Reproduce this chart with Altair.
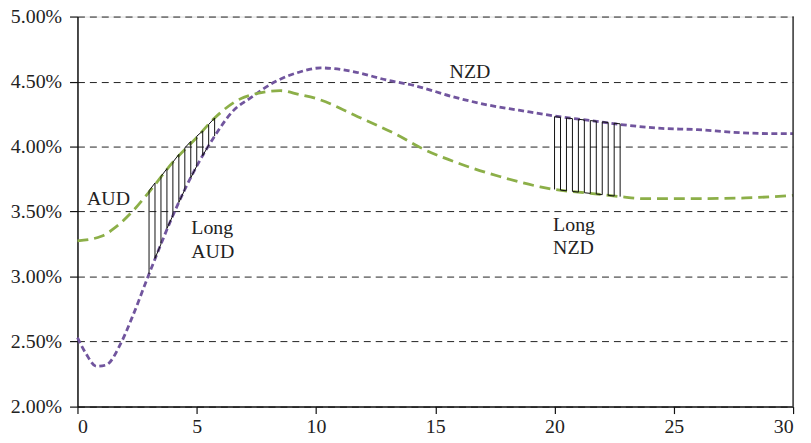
import altair as alt
import pandas as pd

# NZD curve (purple), values in %
nzd_x = [0, 0.35, 0.8, 1.2, 1.8, 2.3, 3.0, 3.5, 4.0, 4.5, 5.0, 5.75, 6.5, 7.3, 8.3, 9.25,
         10.2, 11.6, 13.0, 14.1, 15.8, 17.2, 18.5, 20.0, 21.5, 22.75, 24.5, 26.0, 27.5, 29.0, 30.0]
nzd_y = [2.53, 2.41, 2.31, 2.32, 2.48, 2.69, 3.02, 3.25, 3.47, 3.67, 3.85, 4.08, 4.27, 4.38, 4.50, 4.57,
         4.605, 4.575, 4.51, 4.47, 4.38, 4.32, 4.28, 4.235, 4.20, 4.17, 4.14, 4.13, 4.11, 4.10, 4.10]

# AUD curve (green), values in %
aud_x = [0, 1.0, 1.6, 2.3, 3.0, 4.0, 5.0, 5.75, 7.0, 8.5, 9.3, 10.0, 11.75, 13.4, 14.4, 16.0,
         17.7, 19.4, 20.0, 21.5, 22.75, 23.7, 26.0, 28.0, 30.0]
aud_y = [3.275, 3.31, 3.38, 3.50, 3.65, 3.88, 4.07, 4.22, 4.38, 4.43, 4.40, 4.37, 4.23, 4.09, 3.99, 3.87,
         3.77, 3.69, 3.67, 3.64, 3.615, 3.60, 3.60, 3.605, 3.625]

# hatch "Long AUD": x, top (green) and bottom (purple)
hatch_aud_x = [3.0, 3.25, 3.5, 3.75, 4.0, 4.25, 4.5, 4.75, 5.0, 5.25, 5.5, 5.75]
hatch_aud_top = [3.66, 3.72, 3.77, 3.83, 3.88, 3.94, 3.99, 4.04, 4.08, 4.12, 4.17, 4.22]
hatch_aud_bot = [3.02, 3.14, 3.25, 3.37, 3.47, 3.57, 3.67, 3.76, 3.85, 3.93, 4.01, 4.08]

# hatch "Long NZD": x, top (purple) and bottom (green)
hatch_nzd_x = [20.0, 20.25, 20.5, 20.75, 21.0, 21.25, 21.5, 21.75, 22.0, 22.25, 22.5, 22.75]
hatch_nzd_top = [4.23, 4.225, 4.22, 4.215, 4.21, 4.205, 4.20, 4.195, 4.19, 4.185, 4.18, 4.175]
hatch_nzd_bot = [3.67, 3.665, 3.66, 3.655, 3.65, 3.645, 3.64, 3.635, 3.63, 3.625, 3.62, 3.615]

# annotations
label_text = ["AUD", "Long", "AUD", "NZD", "Long", "NZD"]
label_x = [0.4, 4.77, 4.77, 15.6, 19.94, 19.94]
label_y = [3.60, 3.37, 3.19, 4.575, 3.40, 3.22]

x_ticks = [0, 5, 10, 15, 20, 25, 30]
y_ticks = [0.02, 0.025, 0.03, 0.035, 0.04, 0.045, 0.05]

FONT = "Liberation Serif"
W, H = 721, 393

nzd_df = pd.DataFrame({"x": nzd_x, "y": [v / 100 for v in nzd_y]})
aud_df = pd.DataFrame({"x": aud_x, "y": [v / 100 for v in aud_y]})


def zigzag(xs, tops, bots):
    rows = []
    k = 0
    for i, (xv, t, b) in enumerate(zip(xs, tops, bots)):
        pair = [(b, t), (t, b)][i % 2]
        for v in pair:
            rows.append({"x": xv, "y": v / 100, "o": k})
            k += 1
    return pd.DataFrame(rows)


h_aud = zigzag(hatch_aud_x, hatch_aud_top, hatch_aud_bot)
h_nzd = zigzag(hatch_nzd_x, hatch_nzd_top, hatch_nzd_bot)
lab_df = pd.DataFrame({"t": label_text, "x": label_x, "y": [v / 100 for v in label_y]})

xs = alt.Scale(domain=[0, 30], nice=False, zero=False)
ys = alt.Scale(domain=[0.02, 0.05], nice=False, zero=False)

x_axis = alt.Axis(values=x_ticks, format="d", title=None, grid=False, labelFont=FONT,
                  labelFontSize=20, labelColor="#222", tickSize=7, tickColor="#111",
                  domainColor="#111", domainWidth=1.5, tickWidth=1.2, labelPadding=3)
y_axis = alt.Axis(values=y_ticks, format=".2%", title=None, grid=True, gridDash=[7, 5],
                  gridColor="#222", gridWidth=1, labelFont=FONT, labelFontSize=20,
                  labelColor="#222", tickSize=8, tickColor="#111", domainColor="#111",
                  domainWidth=1.5, tickWidth=1.2, labelPadding=8)

base_x = alt.X("x:Q", scale=xs, axis=x_axis)
base_y = alt.Y("y:Q", scale=ys, axis=y_axis)

hatch1 = alt.Chart(h_aud).mark_line(color="#111", strokeWidth=1).encode(
    x=alt.X("x:Q", scale=xs), y=alt.Y("y:Q", scale=ys), order="o:Q")
hatch2 = alt.Chart(h_nzd).mark_line(color="#111", strokeWidth=1).encode(
    x=alt.X("x:Q", scale=xs), y=alt.Y("y:Q", scale=ys), order="o:Q")

nzd_line = alt.Chart(nzd_df).mark_line(color="#71559E", strokeWidth=2.8, strokeDash=[6, 3.5],
                                       interpolate="monotone").encode(x=base_x, y=base_y)
aud_line = alt.Chart(aud_df).mark_line(color="#8CAF48", strokeWidth=2.8, strokeDash=[11, 6],
                                       interpolate="monotone").encode(
    x=alt.X("x:Q", scale=xs), y=alt.Y("y:Q", scale=ys))

labels = alt.Chart(lab_df).mark_text(font=FONT, fontSize=20, color="#222", align="left",
                                     baseline="middle").encode(
    x=alt.X("x:Q", scale=xs), y=alt.Y("y:Q", scale=ys), text="t:N")

border = alt.Chart(pd.DataFrame({"a": [0]})).mark_rule(color="#333", strokeWidth=1.5).encode(
    x=alt.value(W), y=alt.value(0), y2=alt.value(H))

chart = alt.layer(nzd_line, aud_line, hatch1, hatch2, labels, border).properties(
    width=W, height=H,
    padding={"left": 70, "top": 7, "right": 10, "bottom": 30},
    autosize=alt.AutoSizeParams(type="none"),
).configure_view(stroke=None).configure(background="white")

chart.save("out.html", embed_options={"renderer": "svg", "actions": False})
